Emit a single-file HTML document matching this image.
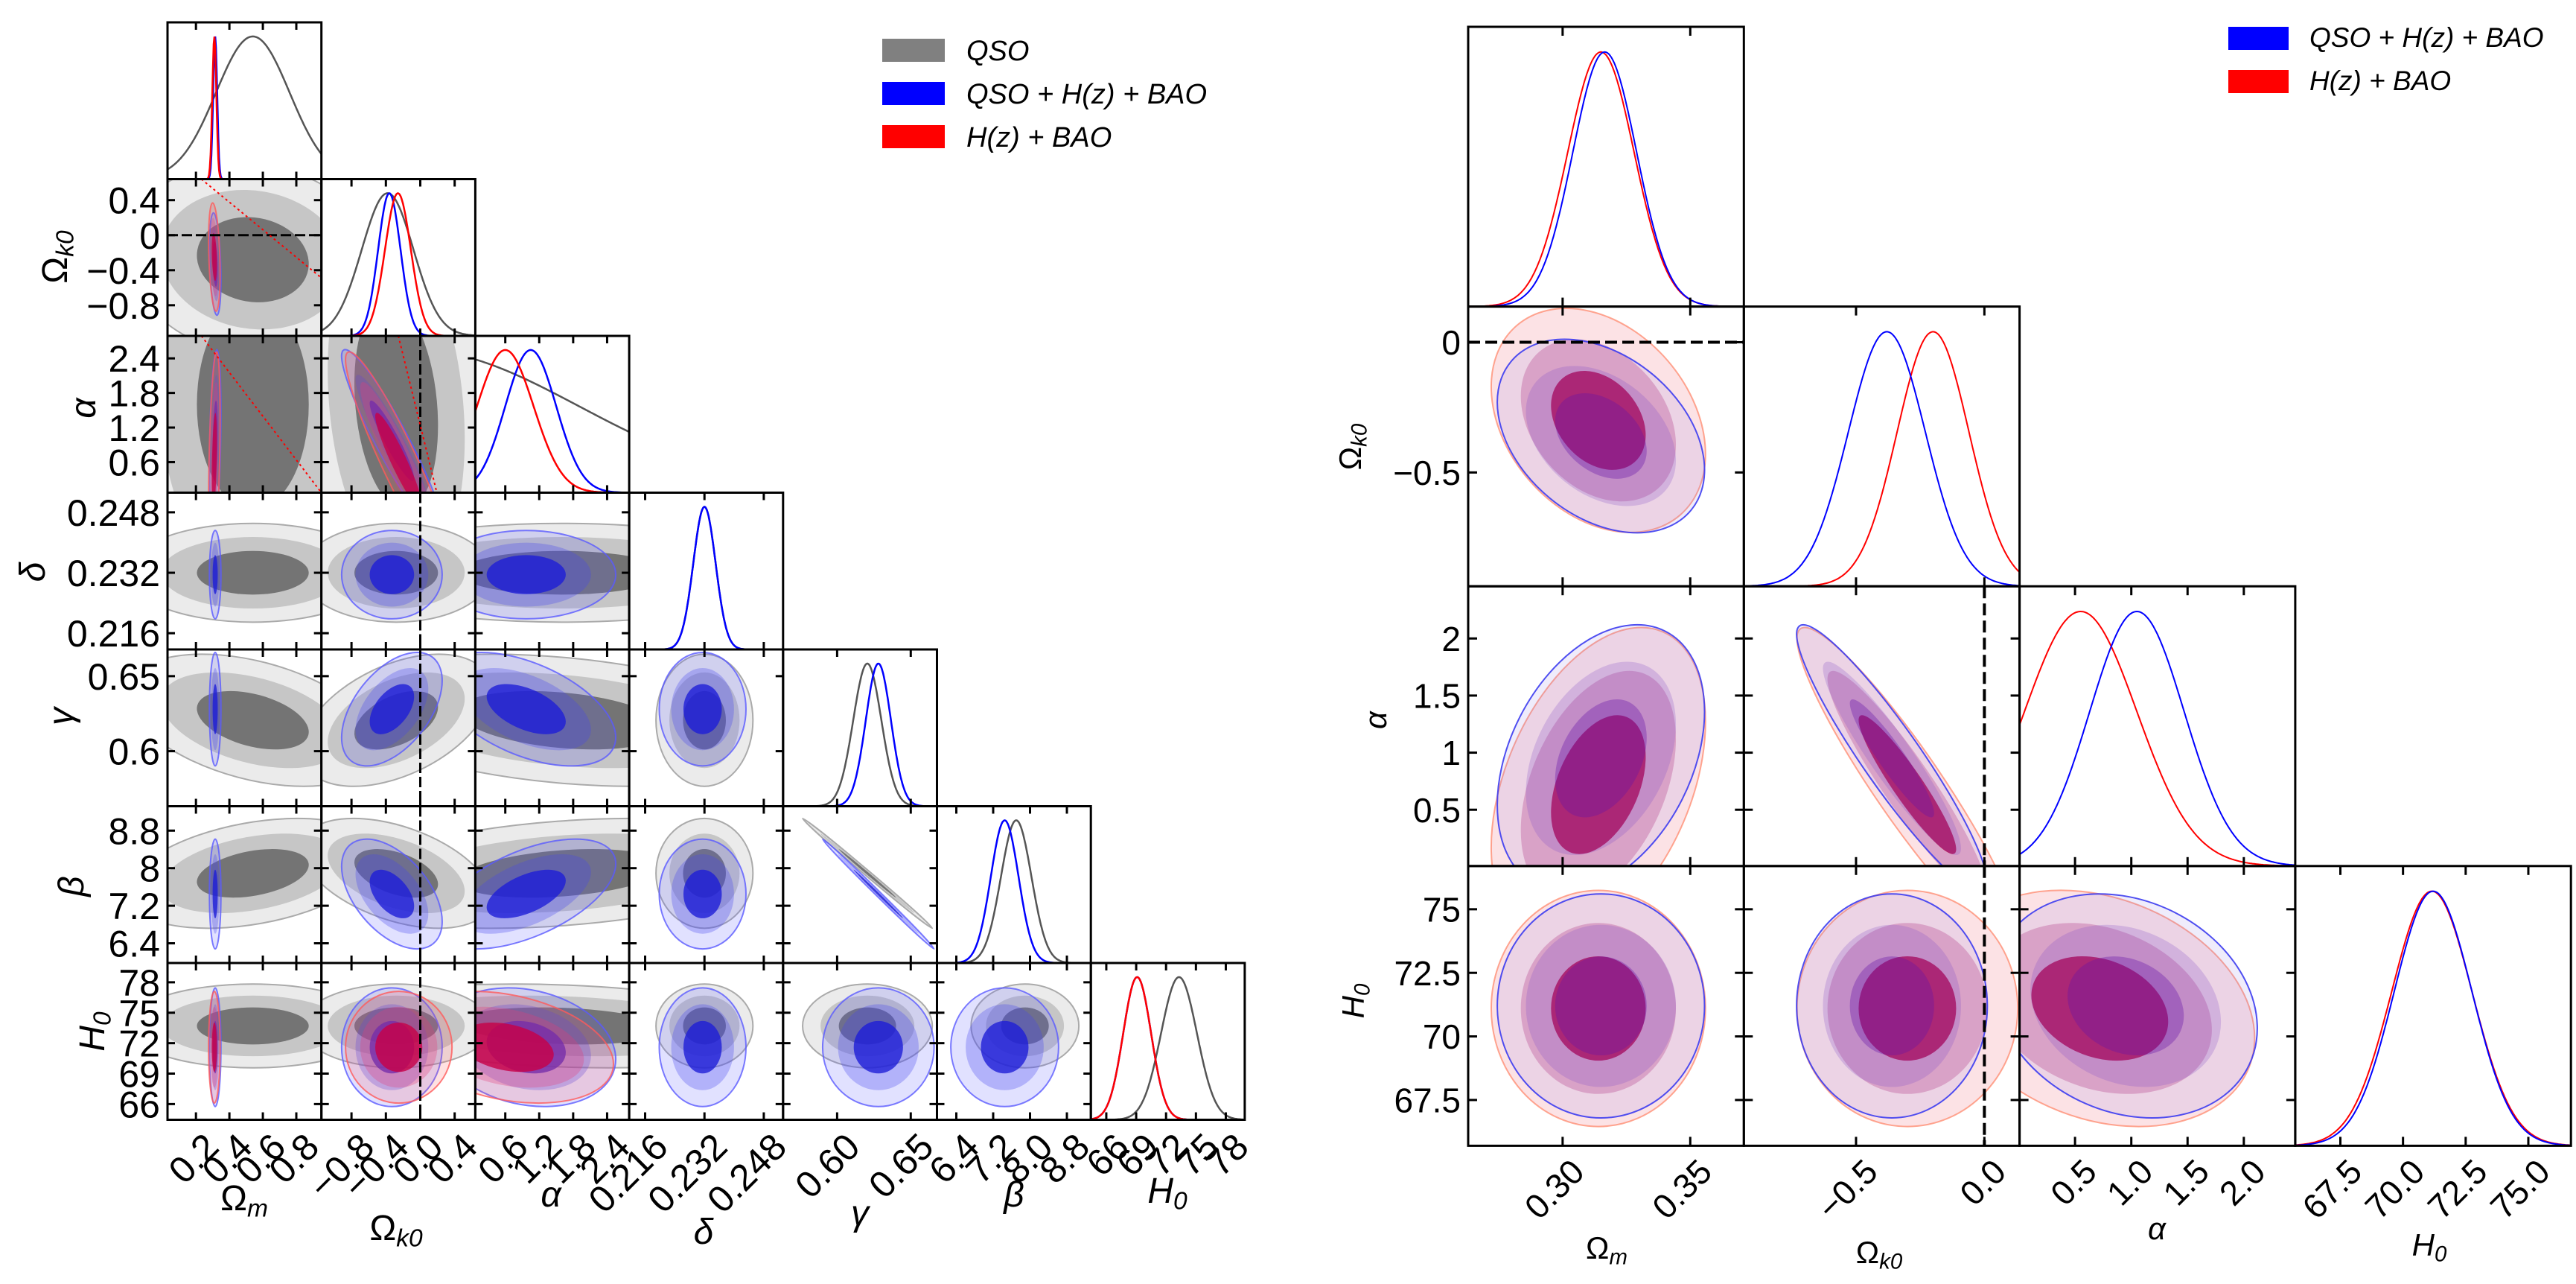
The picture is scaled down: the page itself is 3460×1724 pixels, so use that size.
<!DOCTYPE html>
<html><head><meta charset="utf-8"><style>
html,body{margin:0;padding:0;background:#fff;}
svg{display:block;font-family:"Liberation Sans","DejaVu Sans",sans-serif;}
</style></head><body>
<svg id="fig" width="3460" height="1724" viewBox="0 0 3460 1724" xmlns="http://www.w3.org/2000/svg">
<rect x="0" y="0" width="3460" height="1724" fill="#fff"/>
<g id="left"></g>
<g id="right"></g>
<g>
<rect x="1185" y="52" width="84" height="31" fill="#808080"/>
<text x="1298" y="81" font-size="38" font-style="italic">QSO</text>
<rect x="1185" y="110" width="84" height="31" fill="#0000ff"/>
<text x="1298" y="139" font-size="38" font-style="italic">QSO + H(z) + BAO</text>
<rect x="1185" y="168" width="84" height="31" fill="#ff0000"/>
<text x="1298" y="197" font-size="38" font-style="italic">H(z) + BAO</text>
</g>
<g>
<rect x="2993" y="36" width="81" height="31" fill="#0000ff"/>
<text x="3102" y="63" font-size="37" font-style="italic">QSO + H(z) + BAO</text>
<rect x="2993" y="94" width="81" height="31" fill="#ff0000"/>
<text x="3102" y="121" font-size="37" font-style="italic">H(z) + BAO</text>
</g>
</svg>
<script>
// ---------- LEFT PLOT DATA ----------
const Lparams = ['Om','Ok','al','de','ga','be','H0'];
const Lranges = [[0.03,0.95],[-1.15,0.64],[0.07,2.79],[0.2117,0.2532],[0.5633,0.6678],[5.98,9.32],[64.45,79.9]];
const LqsoMean = [0.54,-0.28,1.6,0.232,0.6206,7.89,73.7];
const LqsoSig  = [0.22,0.32,1.2,0.0038,0.0128,0.34,1.2];
const LqsoDiagMean = [0.54,-0.38,-1.0,0.232,0.6205,7.70,73.3];
const LqsoDiagSig  = [0.22,0.3,2.9,0.003,0.0095,0.33,1.8];
const LblueMean = [0.315,-0.33,0.97,0.2315,0.628,7.45,71.6];
const LblueSig  = [0.010,0.17,0.46,0.0034,0.011,0.34,1.7];
const LblueDiagMean = [0.315,-0.36,1.05,0.232,0.628,7.45,69.1];
const LblueDiagSig  = [0.012,0.13,0.45,0.003,0.0085,0.3,1.4];
const LredMean = [0.31,-0.25,0.62,null,null,null,71.6];
const LredSig  = [0.010,0.18,0.55,null,null,null,1.6];
const LredDiagMean = [0.31,-0.26,0.6,null,null,null,69.1];
const LredDiagSig  = [0.012,0.15,0.5,null,null,null,1.4];
const LqsoCorr = {'1-0':-0.1,'2-0':0,'2-1':-0.2,'4-0':-0.4,'4-1':0.45,'4-2':-0.3,'5-0':0.35,'5-1':-0.45,'5-2':0.3,'5-4':-0.998,'6-2':-0.2};
const LblueCorr = {'1-0':-0.3,'2-0':0.3,'2-1':-0.93,'4-1':0.5,'4-2':-0.5,'5-1':-0.5,'5-2':0.55,'5-4':-0.998,'6-2':-0.2};
const LredCorr = {'1-0':-0.3,'2-0':0.4,'2-1':-0.93,'6-2':-0.3};
const LxTicks = [[0.2,0.4,0.6,0.8],[-0.8,-0.4,0.0,0.4],[0.6,1.2,1.8,2.4],[0.216,0.232,0.248],[0.60,0.65],[6.4,7.2,8.0,8.8],[66,69,72,75,78]];
const LxTickLabels = [['0.2','0.4','0.6','0.8'],['\u22120.8','\u22120.4','0.0','0.4'],['0.6','1.2','1.8','2.4'],['0.216','0.232','0.248'],['0.60','0.65'],['6.4','7.2','8.0','8.8'],['66','69','72','75','78']];
const LyTicks = [null,[0.4,0,-0.4,-0.8],[2.4,1.8,1.2,0.6],[0.248,0.232,0.216],[0.65,0.6],[8.8,8,7.2,6.4],[78,75,72,69,66]];
const LyTickLabels = [null,['0.4','0','\u22120.4','\u22120.8'],['2.4','1.8','1.2','0.6'],['0.248','0.232','0.216'],['0.65','0.6'],['8.8','8','7.2','6.4'],['78','75','72','69','66']];

// ---------- RIGHT PLOT DATA ----------
const Rparams = ['Om','Ok','al','H0'];
const Rranges = [[0.263,0.371],[-0.937,0.137],[0.007,2.457],[65.7,76.7]];
const RblueMean = [0.315,-0.36,0.95,71.2];
const RblueSig  = [0.0118,0.108,0.34,1.28];
const RredMean  = [0.314,-0.30,0.72,71.1];
const RredSig   = [0.0122,0.125,0.4,1.35];
const RblueDiagMean = [0.3165,-0.38,1.05,71.2];
const RblueDiagSig  = [0.0125,0.15,0.42,1.55];
const RredDiagMean  = [0.315,-0.20,0.55,71.15];
const RredDiagSig   = [0.013,0.14,0.5,1.6];
const RblueCorr = {'1-0':-0.35,'2-0':0.35,'2-1':-0.93,'3-0':0,'3-1':0,'3-2':-0.2};
const RredCorr  = {'1-0':-0.3,'2-0':0.4,'2-1':-0.93,'3-0':0,'3-1':0,'3-2':-0.25};
const RxTicks = [[0.30,0.35],[-0.5,0.0],[0.5,1.0,1.5,2.0],[67.5,70,72.5,75]];
const RxTickLabels = [['0.30','0.35'],['\u22120.5','0.0'],['0.5','1.0','1.5','2.0'],['67.5','70.0','72.5','75.0']];
const RyTicks = [null,[0,-0.5],[2,1.5,1,0.5],[75,72.5,70,67.5]];
const RyTickLabels = [null,['0','\u22120.5'],['2','1.5','1','0.5'],['75','72.5','70','67.5']];

const NS='http://www.w3.org/2000/svg';
function mk(tag,attrs,parent){const e=document.createElementNS(NS,tag);for(const k in attrs)e.setAttribute(k,attrs[k]);parent.appendChild(e);return e;}
let clipId=0;
const LEVELS=[3.44,2.49,1.52];

function drawEllipse(g,cx,cy,sxp,syp,rho,fills,strokes,sw,name){
  const a=sxp*sxp,c=syp*syp,b=-rho*sxp*syp;
  const m=(a+c)/2,d=Math.sqrt(((a-c)/2)**2+b*b);
  const l1=m+d,l2=Math.max(m-d,0.01);
  const th=0.5*Math.atan2(2*b,a-c)*180/Math.PI;
  LEVELS.forEach((k,i)=>{
    const e=mk('ellipse',{cx:cx,cy:cy,rx:Math.sqrt(l1)*k,ry:Math.sqrt(l2)*k,transform:`rotate(${th} ${cx} ${cy})`,fill:fills[i],stroke:strokes[i],'stroke-width':sw},g);
    
    
  });
}

function buildTriangle(cfg){
  const root=document.getElementById(cfg.id);
  const n=cfg.params.length;
  for(let i=0;i<n;i++){for(let j=0;j<=i;j++){
    const x0=cfg.x0+j*cfg.w,y0=cfg.y0+i*cfg.h,w=cfg.w,h=cfg.h;
    const g=mk('g',{},root);
    
    
    const cid='c'+(clipId++);
    const cp=mk('clipPath',{id:cid},g);mk('rect',{x:x0,y:y0,width:w,height:h},cp);
    const inner=mk('g',{'clip-path':`url(#${cid})`},g);
    const xr=cfg.ranges[j];
    const yr=cfg.ranges[i];
    const X=v=>x0+(v-xr[0])/(xr[1]-xr[0])*w;
    const Y=v=>y0+h-(v-yr[0])/(yr[1]-yr[0])*h;
    if(i===j){
      cfg.series.forEach(s=>{
        const mu=s.dm[j],sg=s.ds[j]; if(mu==null)return;
        let d='';
        for(let p=0;p<=200;p++){const v=xr[0]+(xr[1]-xr[0])*p/200;const f=Math.exp(-0.5*((v-mu)/sg)**2);
          d+=(p?'L':'M')+X(v).toFixed(1)+','+(y0+h-f*0.91*h).toFixed(1);}
        const pth=mk('path',{d:d,fill:'none',stroke:s.line,'stroke-width':cfg.lw},inner);
        
        
      });
    } else {
      cfg.series.forEach(s=>{
        if(s.m[i]==null||s.m[j]==null)return;
        const rho=s.corr[i+'-'+j]||0;
        const sxp=s.s[j]/(xr[1]-xr[0])*w,syp=s.s[i]/(yr[1]-yr[0])*h;
        drawEllipse(inner,X(s.m[j]),Y(s.m[i]),sxp,syp,rho,s.fills,s.strokes,cfg.esw,`${s.name}-${cfg.params[i]}-${cfg.params[j]}`);
      });
      if(cfg.extra)cfg.extra(inner,i,j,X,Y,x0,y0,w,h);
    }
    const fr=mk('rect',{x:x0,y:y0,width:w,height:h,fill:'none',stroke:'#000','stroke-width':cfg.frame},g);
    
    
    const tl=cfg.tickLen;
    cfg.xTicks[j].forEach((v,k)=>{const xx=X(v);
      mk('line',{x1:xx,y1:y0+h,x2:xx,y2:y0+h-tl,stroke:'#000','stroke-width':3},g);
      mk('line',{x1:xx,y1:y0,x2:xx,y2:y0+tl,stroke:'#000','stroke-width':3},g);
      if(i===n-1){const t=mk('text',{x:xx+8,y:y0+h+14,'font-size':cfg.fs,'text-anchor':'end',transform:`rotate(-45 ${xx+8} ${y0+h+14})`,'dominant-baseline':'hanging'},root);
        t.textContent=cfg.xTickLabels[j][k];
        
        }
    });
    if(i!==j&&cfg.yTicks[i]){cfg.yTicks[i].forEach((v,k)=>{const yy=Y(v);
      mk('line',{x1:x0,y1:yy,x2:x0+tl,y2:yy,stroke:'#000','stroke-width':3},g);
      mk('line',{x1:x0+w,y1:yy,x2:x0+w-tl,y2:yy,stroke:'#000','stroke-width':3},g);
      if(j===0){const t=mk('text',{x:x0-10,y:yy+cfg.fs*0.36,'font-size':cfg.fs,'text-anchor':'end'},root);
        t.textContent=cfg.yTickLabels[i][k];
        
        }
    });}
  }}
}

function label(root,x,y,html,fs,rot,name){
  const t=mk('text',{x:x,y:y,'font-size':fs,'text-anchor':'middle'},root);
  if(rot)t.setAttribute('transform',`rotate(-90 ${x} ${y})`);
  t.innerHTML=html;
  
  
}
const sub=(b,s,it)=>`<tspan${it?' font-style="italic"':''}>${b}</tspan><tspan font-size="0.7em" dy="0.25em" font-style="italic">${s}</tspan>`;

buildTriangle({id:'left',params:Lparams,ranges:Lranges,x0:225,y0:30,w:206.7,h:210.5,lw:2.5,esw:2,frame:3,tickLen:10,fs:50,
  xTicks:LxTicks,xTickLabels:LxTickLabels,yTicks:LyTicks,yTickLabels:LyTickLabels,
  series:[
    {name:'qso',m:LqsoMean,s:LqsoSig,dm:LqsoDiagMean,ds:LqsoDiagSig,corr:LqsoCorr,line:'#555',fills:['#ebebeb','#c6c6c6','#747474'],strokes:['#aaa','none','none']},
    {name:'qso-hz-bao',m:LblueMean,s:LblueSig,dm:LblueDiagMean,ds:LblueDiagSig,corr:LblueCorr,line:'#0000ff',fills:['rgba(90,90,255,0.18)','rgba(70,70,240,0.3)','rgba(30,30,215,0.8)'],strokes:['rgba(90,90,255,0.8)','none','none']},
    {name:'hz-bao',m:LredMean,s:LredSig,dm:LredDiagMean,ds:LredDiagSig,corr:LredCorr,line:'#ff0000',fills:['rgba(255,90,90,0.18)','rgba(230,60,120,0.3)','rgba(200,0,70,0.8)'],strokes:['rgba(255,90,90,0.8)','none','none']}
  ],
  extra:(g,i,j,X,Y,x0,y0,w,h)=>{
    if(i===1&&j===0){const l=mk('line',{x1:x0,y1:Y(0),x2:x0+w,y2:Y(0),stroke:'#000','stroke-width':3,'stroke-dasharray':'14,5'},g);
      }
    if(j===1&&i>1){const l=mk('line',{x1:X(0),y1:y0,x2:X(0),y2:y0+h,stroke:'#000','stroke-width':3,'stroke-dasharray':'14,5'},g);
      }
    if((i===1&&j===0)||(i===2&&(j===0||j===1))){
      const l=mk('line',{x1:x0+w*(j===1?0.5:0.22),y1:y0,x2:x0+w*(j===1?0.75:1),y2:y0+h*(i===1?0.63:1.0),stroke:'#f00','stroke-width':2,'stroke-dasharray':'3,4'},g);
      }
  }});

buildTriangle({id:'right',params:Rparams,ranges:Rranges,x0:1972,y0:36,w:370.3,h:375.6,lw:2,esw:2,frame:3,tickLen:12,fs:46,
  xTicks:RxTicks,xTickLabels:RxTickLabels,yTicks:RyTicks,yTickLabels:RyTickLabels,
  series:[
    {name:'hz-bao',m:RredMean,s:RredSig,dm:RredDiagMean,ds:RredDiagSig,corr:RredCorr,line:'#ff0000',fills:['rgba(245,140,150,0.25)','rgba(205,100,150,0.45)','rgba(190,0,60,0.95)'],strokes:['rgba(255,130,100,0.7)','none','none']},
    {name:'qso-hz-bao',m:RblueMean,s:RblueSig,dm:RblueDiagMean,ds:RblueDiagSig,corr:RblueCorr,line:'#0000ff',fills:['rgba(150,130,230,0.15)','rgba(130,80,200,0.25)','rgba(100,20,170,0.35)'],strokes:['rgba(60,60,240,0.9)','none','none']}
  ],
  extra:(g,i,j,X,Y,x0,y0,w,h)=>{
    if(i===1&&j===0){const l=mk('line',{x1:x0,y1:Y(0),x2:x0+w,y2:Y(0),stroke:'#000','stroke-width':4,'stroke-dasharray':'16,7'},g);
      }
    if(j===1&&i>1){const l=mk('line',{x1:X(0),y1:y0,x2:X(0),y2:y0+h,stroke:'#000','stroke-width':4,'stroke-dasharray':'16,7'},g);
      }
  }});

const L=document.getElementById('left'),R=document.getElementById('right');
label(L,328,1625,sub('Ω','m'),48,false,'x-axis-title-omega-m');
label(L,532,1665,sub('Ω','k0'),48,false,'x-axis-title-omega-k0');
label(L,740,1620,'<tspan font-style="italic">α</tspan>',48,false,'x-axis-title-alpha');
label(L,945,1670,'<tspan font-style="italic">δ</tspan>',48,false,'x-axis-title-delta');
label(L,1155,1645,'<tspan font-style="italic">γ</tspan>',48,false,'x-axis-title-gamma');
label(L,1362,1620,'<tspan font-style="italic">β</tspan>',48,false,'x-axis-title-beta');
label(L,1568,1615,sub('H','0',true),48,false,'x-axis-title-h0');
label(L,90,345,sub('Ω','k0'),48,true,'y-axis-title-omega-k0');
label(L,128,548,'<tspan font-style="italic">α</tspan>',48,true,'y-axis-title-alpha');
label(L,60,768,'<tspan font-style="italic">δ</tspan>',48,true,'y-axis-title-delta');
label(L,98,962,'<tspan font-style="italic">γ</tspan>',48,true,'y-axis-title-gamma');
label(L,112,1190,'<tspan font-style="italic">β</tspan>',48,true,'y-axis-title-beta');
label(L,140,1385,sub('H','0',true),48,true,'y-axis-title-h0');
label(R,2158,1690,sub('Ω','m'),42,false,'x-axis-title-omega-m-right');
label(R,2524,1696,sub('Ω','k0'),42,false,'x-axis-title-omega-k0-right');
label(R,2897,1664,'<tspan font-style="italic">α</tspan>',42,false,'x-axis-title-alpha-right');
label(R,3263,1686,sub('H','0',true),42,false,'x-axis-title-h0-right');
label(R,1828,600,sub('Ω','k0'),42,true,'y-axis-title-omega-k0-right');
label(R,1862,967,'<tspan font-style="italic">α</tspan>',42,true,'y-axis-title-alpha-right');
label(R,1832,1344,sub('H','0',true),42,true,'y-axis-title-h0-right');
</script>
</body></html>
